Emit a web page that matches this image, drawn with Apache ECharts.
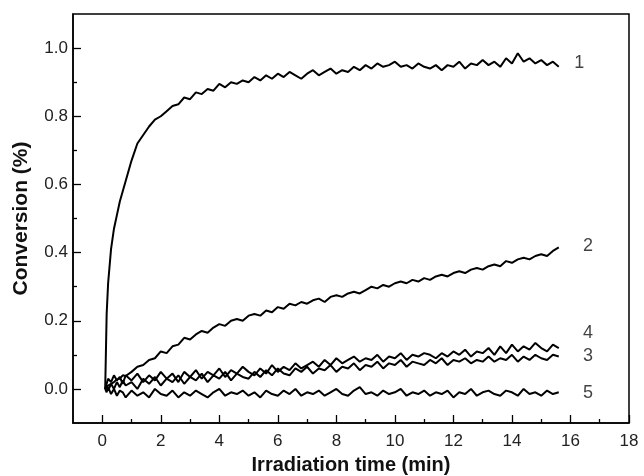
<!DOCTYPE html>
<html>
<head>
<meta charset="utf-8">
<script src="https://cdn.jsdelivr.net/npm/echarts@6/dist/echarts.min.js"></script>
<style>
  html, body { margin: 0; padding: 0; background: #fff; }
  #chart { width: 644px; height: 476px; }
</style>
</head>
<body>
<div id="chart"></div>
<script>
// irradiation time (min), shared by all five curves
const times = [
  0.1, 0.15, 0.2, 0.3, 0.4, 0.5, 0.6, 0.7, 0.8, 1.0,
  1.2, 1.4, 1.6, 1.8, 2.0, 2.2, 2.4, 2.6, 2.8, 3.0,
  3.2, 3.4, 3.6, 3.8, 4.0, 4.2, 4.4, 4.6, 4.8, 5.0,
  5.2, 5.4, 5.6, 5.8, 6.0, 6.2, 6.4, 6.6, 6.8, 7.0,
  7.2, 7.4, 7.6, 7.8, 8.0, 8.2, 8.4, 8.6, 8.8, 9.0,
  9.2, 9.4, 9.6, 9.8, 10.0, 10.2, 10.4, 10.6, 10.8, 11.0,
  11.2, 11.4, 11.6, 11.8, 12.0, 12.2, 12.4, 12.6, 12.8, 13.0,
  13.2, 13.4, 13.6, 13.8, 14.0, 14.2, 14.4, 14.6, 14.8, 15.0,
  15.2, 15.4, 15.6
];

const curve1 = [
  0.0, 0.22, 0.31, 0.41, 0.47, 0.51, 0.55, 0.58, 0.61, 0.67,
  0.72, 0.745, 0.77, 0.79, 0.80, 0.815, 0.83, 0.835, 0.855, 0.85,
  0.87, 0.865, 0.88, 0.875, 0.895, 0.885, 0.90, 0.895, 0.905, 0.90,
  0.915, 0.905, 0.92, 0.91, 0.925, 0.915, 0.93, 0.92, 0.91, 0.925,
  0.935, 0.92, 0.93, 0.94, 0.925, 0.935, 0.93, 0.945, 0.935, 0.95,
  0.94, 0.955, 0.945, 0.95, 0.96, 0.945, 0.95, 0.94, 0.955, 0.945,
  0.94, 0.95, 0.935, 0.95, 0.945, 0.96, 0.94, 0.955, 0.95, 0.965,
  0.95, 0.96, 0.945, 0.97, 0.955, 0.985, 0.96, 0.97, 0.955, 0.965,
  0.95, 0.96, 0.945
];

const curve2 = [
  0.0, 0.005, 0.01, 0.015, 0.02, 0.028, 0.03, 0.04, 0.038, 0.05,
  0.065, 0.07, 0.085, 0.09, 0.11, 0.105, 0.125, 0.13, 0.15, 0.145,
  0.16, 0.17, 0.165, 0.18, 0.19, 0.185, 0.2, 0.205, 0.2, 0.215,
  0.22, 0.215, 0.23, 0.225, 0.24, 0.235, 0.25, 0.245, 0.255, 0.25,
  0.26, 0.265, 0.255, 0.27, 0.275, 0.27, 0.28, 0.285, 0.28, 0.29,
  0.3, 0.295, 0.305, 0.3, 0.31, 0.315, 0.31, 0.32, 0.315, 0.325,
  0.32, 0.33, 0.335, 0.33, 0.34, 0.345, 0.34, 0.35, 0.355, 0.35,
  0.36, 0.365, 0.36, 0.375, 0.37, 0.38, 0.385, 0.38, 0.39, 0.395,
  0.39, 0.405, 0.415
];

const curve3 = [
  0.0, 0.01, -0.005, 0.015, 0.0, 0.02, 0.005, 0.025, 0.01, 0.02,
  0.0, 0.03, 0.015, 0.035, 0.01, 0.03, 0.02, 0.04, 0.015, 0.035,
  0.025, 0.045, 0.02, 0.04, 0.03, 0.05, 0.025, 0.045, 0.035, 0.03,
  0.05, 0.035, 0.055, 0.04, 0.06, 0.045, 0.04, 0.06, 0.05, 0.065,
  0.045, 0.06, 0.055, 0.07, 0.05, 0.065, 0.06, 0.075, 0.055, 0.07,
  0.065, 0.08, 0.06, 0.075, 0.07, 0.085, 0.065, 0.08, 0.075, 0.07,
  0.085, 0.075, 0.09, 0.07, 0.085, 0.08, 0.09, 0.075, 0.085, 0.08,
  0.095, 0.08, 0.09, 0.085, 0.1, 0.08, 0.095, 0.085, 0.1, 0.09,
  0.085, 0.1, 0.095
];

const curve4 = [
  0.0, 0.015, 0.03, 0.02, 0.04, 0.025, 0.035, 0.015, 0.04, 0.025,
  0.045, 0.02, 0.04, 0.025, 0.05, 0.03, 0.045, 0.02, 0.05, 0.035,
  0.055, 0.03, 0.05, 0.04, 0.06, 0.035, 0.055, 0.045, 0.065, 0.05,
  0.04, 0.06, 0.045, 0.07, 0.05, 0.065, 0.055, 0.075, 0.06, 0.07,
  0.08, 0.065, 0.085, 0.07, 0.09, 0.075, 0.085, 0.095, 0.08, 0.09,
  0.085, 0.1, 0.08, 0.095, 0.09, 0.105, 0.085, 0.1, 0.095, 0.105,
  0.1, 0.09, 0.105, 0.095, 0.11, 0.1, 0.115, 0.095, 0.11, 0.105,
  0.12, 0.1, 0.125, 0.105, 0.13, 0.11, 0.125, 0.115, 0.135, 0.12,
  0.11, 0.13, 0.12
];

const curve5 = [
  0.0, -0.01, 0.005, -0.015, 0.0, -0.02, -0.005, -0.01, -0.025, -0.005,
  -0.02, -0.01, -0.025, 0.0, -0.015, -0.02, -0.005, -0.025, -0.01, -0.02,
  -0.005, -0.015, -0.025, -0.01, 0.0, -0.02, -0.01, -0.015, -0.005, -0.02,
  -0.01, -0.025, -0.005, -0.015, -0.02, -0.005, -0.015, 0.0, -0.02, -0.01,
  -0.015, -0.005, -0.02, -0.01, 0.0, -0.015, -0.02, -0.005, 0.005, -0.015,
  -0.01, -0.02, -0.005, -0.015, -0.01, 0.0, -0.02, -0.01, -0.015, -0.005,
  -0.02, -0.01, -0.015, -0.005, -0.025, -0.01, -0.015, 0.0, -0.02, -0.01,
  -0.005, -0.015, -0.02, -0.005, -0.01, -0.02, 0.0, -0.015, -0.01, -0.02,
  -0.005, -0.015, -0.01
];

// curve number labels at the right end
const labelNames = ['1', '2', '3', '4', '5'];
const labelTimes = [16.3, 16.6, 16.6, 16.6, 16.6];
const labelValues = [0.955, 0.42, 0.097, 0.163, -0.012];

const xTicks = [0, 2, 4, 6, 8, 10, 12, 14, 16, 18];
const xMinorTicks = [1, 3, 5, 7, 9, 11, 13, 15, 17];
const yTicks = [0, 0.2, 0.4, 0.6, 0.8, 1.0];
const yMinorTicks = [0.1, 0.3, 0.5, 0.7, 0.9];

const curves = [curve1, curve2, curve3, curve4, curve5];
const font = 'Liberation Sans, Arial, sans-serif';

const chart = echarts.init(document.getElementById('chart'));

const lineSeries = curves.map(function (vals, i) {
  return {
    type: 'line',
    name: labelNames[i],
    xAxisIndex: 0,
    yAxisIndex: 0,
    showSymbol: false,
    symbol: 'none',
    lineStyle: { color: '#000', width: 2 },
    data: times.map(function (t, k) { return [t, vals[k]]; }),
    z: 3
  };
});

const labelSeries = {
  type: 'scatter',
  xAxisIndex: 0,
  yAxisIndex: 0,
  symbolSize: 0,
  silent: true,
  data: labelNames.map(function (n, i) { return { name: n, value: [labelTimes[i], labelValues[i]] }; }),
  label: {
    show: true,
    position: 'inside',
    formatter: function (p) { return p.name; },
    color: '#111',
    fontSize: 18,
    fontFamily: font
  }
};

const mainLine = { show: true, onZero: false, lineStyle: { color: '#000', width: 1.5 } };
const tickStyle = { color: '#000', width: 1.3 };

chart.setOption({
  animation: false,
  backgroundColor: '#fff',
  grid: {
    left: 73, right: 15, top: 14, bottom: 53,
    outerBoundsMode: 'none',
    containLabel: false,
    show: true, borderColor: '#000', borderWidth: 1.5
  },
  xAxis: [
    {
      type: 'value',
      min: -1, max: 18,
      axisLine: mainLine,
      splitLine: { show: false },
      axisTick: { show: true, inside: true, length: 8, customValues: xTicks, lineStyle: tickStyle },
      axisLabel: { customValues: xTicks, color: '#222', fontSize: 17, fontFamily: font, margin: 10 },
      name: 'Irradiation time (min)',
      nameLocation: 'middle',
      nameGap: 32,
      nameTextStyle: { color: '#111', fontSize: 20, fontWeight: 'bold', fontFamily: font }
    },
    {
      type: 'value',
      min: -1, max: 18,
      position: 'bottom',
      axisLine: { show: false, onZero: false },
      splitLine: { show: false },
      axisLabel: { show: false },
      axisTick: { show: true, inside: true, length: 4, customValues: xMinorTicks, lineStyle: tickStyle }
    }
  ],
  yAxis: [
    {
      type: 'value',
      min: -0.1, max: 1.1,
      axisLine: mainLine,
      splitLine: { show: false },
      axisTick: { show: true, inside: true, length: 8, customValues: yTicks, lineStyle: tickStyle },
      axisLabel: {
        customValues: yTicks,
        formatter: function (v) { return v.toFixed(1); },
        color: '#222', fontSize: 17, fontFamily: font, margin: 5
      },
      name: 'Conversion (%)',
      nameLocation: 'middle',
      nameGap: 41,
      nameTextStyle: { color: '#111', fontSize: 21, fontWeight: 'bold', fontFamily: font }
    },
    {
      type: 'value',
      min: -0.1, max: 1.1,
      position: 'left',
      axisLine: { show: false, onZero: false },
      splitLine: { show: false },
      axisLabel: { show: false },
      axisTick: { show: true, inside: true, length: 4, customValues: yMinorTicks, lineStyle: tickStyle }
    }
  ],
  series: lineSeries.concat([labelSeries])
});
</script>
</body>
</html>
